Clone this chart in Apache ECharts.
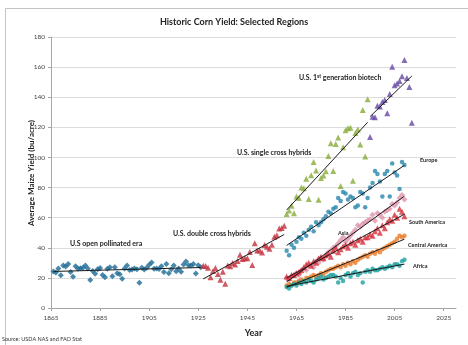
<!DOCTYPE html>
<html>
<head>
<meta charset="utf-8">
<script src="https://cdn.jsdelivr.net/npm/echarts@6/dist/echarts.min.js"></script>
<style>
  html, body { margin: 0; padding: 0; background: #fff; }
  #main { width: 468px; height: 345px; }
</style>
</head>
<body>
<div id="main"></div>
<script>
// US yields (bu/acre), one value per year from the start year
const usOpenStart = 1866;
const usOpen = [24.3, 23.6, 26.2, 21.8, 28.3, 27.6, 29.3, 23.9, 20.8, 27.7,
  26.0, 26.4, 26.7, 28.2, 26.3, 18.6, 24.6, 22.7, 25.8, 26.5,
  22.0, 20.4, 26.1, 27.0, 21.1, 27.0, 23.1, 22.5, 19.4, 26.2,
  28.2, 25.3, 25.6, 26.2, 25.8, 16.7, 26.8, 25.5, 26.8, 28.8,
  30.3, 26.0, 26.2, 25.9, 27.7, 23.9, 29.2, 23.1, 25.8, 28.2,
  24.4, 26.3, 24.0, 28.9, 30.9, 28.4, 28.3, 29.3, 22.9, 28.4, 27.0];
const usDoubleStart = 1927;
const usDouble = [28.1, 27.9, 26.8, 20.5, 24.5, 26.5, 22.6, 18.7, 24.0, 16.1,
  28.2, 27.8, 29.9, 28.9, 31.2, 35.4, 32.6, 33.0, 33.1, 37.2,
  28.6, 43.0, 38.2, 38.2, 36.9, 41.8, 40.7, 39.4, 42.0, 47.4,
  48.3, 52.8, 53.1, 54.7];
const usSingleStart = 1961;
const usSingle = [62.4, 64.7, 67.9, 62.9, 74.1, 73.1, 80.1, 79.5, 85.9, 72.4,
  88.1, 97.0, 91.3, 71.9, 86.4, 88.0, 90.8, 101.0, 109.5, 91.0,
  108.9, 113.2, 81.1, 106.7, 118.0, 119.4, 119.8, 84.6, 116.3, 118.5,
  108.6, 131.5, 100.7, 138.6];
const usBiotechStart = 1995;
const usBiotech = [113.5, 127.1, 126.7, 134.4, 133.8, 136.9, 138.2, 129.3, 142.2, 160.3,
  147.9, 149.1, 150.7, 153.9, 164.7, 152.8, 146.8, 123.1];

// FAO regions, 1961 onwards
const regionStart = 1961;
const europe = [38, 35, 42, 40, 44, 47, 46, 50, 48, 52,
  54, 51, 57, 55, 57, 59, 61, 64, 63, 66,
  67, 73, 71, 77, 76, 72, 74, 73, 67, 68,
  77, 76, 67, 73, 80, 83, 91, 89, 84, 74,
  89, 91, 74, 96, 90, 88, 79, 97, 95];
const asia = [20, 19, 21, 22, 23, 22, 25, 26, 25, 28,
  29, 27, 31, 30, 33, 32, 35, 37, 38, 40,
  41, 43, 45, 47, 44, 46, 48, 50, 52, 55,
  54, 56, 57, 58, 59, 62, 58, 63, 62, 60,
  64, 65, 66, 69, 68, 70, 73, 75, 72];
const southAmerica = [21, 20, 22, 22, 23, 24, 25, 27, 29, 30,
  28, 31, 30, 33, 34, 33, 35, 36, 34, 38,
  40, 37, 39, 41, 42, 40, 43, 44, 42, 45,
  46, 44, 47, 47, 49, 48, 51, 53, 50, 55,
  53, 57, 59, 58, 62, 60, 66, 64, 61];
const centralAmerica = [15, 16, 15, 17, 17, 18, 19, 18, 20, 20,
  21, 22, 21, 22, 23, 22, 24, 25, 26, 26,
  27, 28, 27, 29, 28, 30, 29, 31, 30, 32,
  33, 34, 35, 34, 36, 37, 36, 38, 37, 39,
  40, 41, 42, 43, 44, 46, 48, 47, 48];
const africa = [14, 13, 15, 16, 15, 17, 16, 18, 17, 19,
  18, 17, 19, 20, 21, 19, 20, 21, 22, 22,
  21, 17, 20, 18, 22, 23, 21, 23, 24, 22,
  23, 17, 24, 25, 24, 26, 25, 25, 26, 27,
  26, 27, 28, 27, 29, 29, 28, 31, 32];

const xTicks = [1865, 2030, 20];
const yTicks = [0, 180, 20];

// year/value pairs
const pairs = (start, vals) => vals.map((v, i) => [start + i, v]);

// least squares line over the points, ends at first and last year
const trend = (pts) => {
  const n = pts.length;
  let sx = 0, sy = 0;
  pts.forEach(p => { sx += p[0]; sy += p[1]; });
  const mx = sx / n, my = sy / n;
  let num = 0, den = 0;
  pts.forEach(p => { num += (p[0] - mx) * (p[1] - my); den += (p[0] - mx) * (p[0] - mx); });
  const k = num / den;
  const x0 = pts[0][0], x1 = pts[n - 1][0];
  return [[x0, my + k * (x0 - mx)], [x1, my + k * (x1 - mx)]];
};

const groups = [
  { name: 'US open pollinated', data: pairs(usOpenStart, usOpen), color: '#1d6a95', symbol: 'diamond', size: 6 },
  { name: 'US double cross', data: pairs(usDoubleStart, usDouble), color: '#c3303d', symbol: 'triangle', size: 6 },
  { name: 'US single cross', data: pairs(usSingleStart, usSingle), color: '#88ab3a', symbol: 'triangle', size: 6 },
  { name: 'US biotech', data: pairs(usBiotechStart, usBiotech), color: '#6649a3', symbol: 'triangle', size: 6 },
  { name: 'Europe', data: pairs(regionStart, europe), color: '#2786ad', symbol: 'circle', size: 4.5 },
  { name: 'Asia', data: pairs(regionStart, asia), color: '#df94aa', symbol: 'diamond', size: 6 },
  { name: 'South America', data: pairs(regionStart, southAmerica), color: '#d52f3b', symbol: 'triangle', size: 6 },
  { name: 'Central America', data: pairs(regionStart, centralAmerica), color: '#e97a28', symbol: 'circle', size: 4.5 },
  { name: 'Africa', data: pairs(regionStart, africa), color: '#1d9f9f', symbol: 'circle', size: 4.5 }
];

const series = [];
groups.forEach(g => {
  series.push({
    name: g.name,
    type: 'scatter',
    data: g.data,
    symbol: g.symbol,
    symbolSize: g.size,
    itemStyle: { color: g.color },
    silent: true,
    z: 2
  });
});
groups.forEach(g => {
  series.push({
    name: g.name + ' trend',
    type: 'line',
    data: trend(g.data),
    symbol: 'none',
    lineStyle: { color: '#1a1a1a', width: 1 },
    silent: true,
    z: 3
  });
});

const font = 'Lato, "Open Sans", sans-serif';
const note = (text, x, y, size) => ({
  type: 'text', left: x, top: y - size / 2 - 1, z: 10,
  style: { text: text, font: 'bold ' + size + 'px ' + font, fill: '#222' }
});

const chart = echarts.init(document.getElementById('main'), null, { renderer: 'canvas' });
chart.setOption({
  animation: false,
  backgroundColor: '#fff',
  title: {
    text: 'Historic Corn Yield: Selected Regions',
    left: 'center', top: 13,
    textStyle: { fontFamily: font, fontSize: 9, fontWeight: 'bold', color: '#222' }
  },
  grid: { left: 51, right: 12, top: 37, bottom: 37, containLabel: false },
  xAxis: {
    type: 'value',
    min: xTicks[0], max: xTicks[1], interval: xTicks[2],
    name: 'Year', nameLocation: 'middle', nameGap: 21,
    nameTextStyle: { fontFamily: font, fontSize: 9, fontWeight: 'bold', color: '#222' },
    axisLine: { lineStyle: { color: '#a6a6a6' } },
    axisTick: { show: true, length: 3, lineStyle: { color: '#a6a6a6' } },
    axisLabel: { fontFamily: font, fontSize: 6.5, color: '#444', margin: 6, showMaxLabel: false, formatter: v => String(v) },
    splitLine: { show: false }
  },
  yAxis: {
    type: 'value',
    min: yTicks[0], max: yTicks[1], interval: yTicks[2],
    axisLine: { show: true, lineStyle: { color: '#a6a6a6' } },
    axisTick: { show: true, length: 3, lineStyle: { color: '#a6a6a6' } },
    axisLabel: { fontFamily: font, fontSize: 6.5, color: '#444', margin: 6 },
    splitLine: { show: true, lineStyle: { color: '#dcdcdc', width: 1 } }
  },
  graphic: [
    { type: 'rect', shape: { x: 5.5, y: 8.5, width: 470, height: 345 }, style: { fill: 'none', stroke: '#c4c4c4', lineWidth: 1 }, z: -1, silent: true },
    {
      type: 'text', x: 31, y: 173, rotation: Math.PI / 2, z: 10,
      style: { text: 'Average Maize Yield (bu/acre)', font: 'bold 8px ' + font, fill: '#222', align: 'center', verticalAlign: 'middle' }
    },
    {
      type: 'text', left: 299, top: 74, z: 10,
      style: {
        text: 'U.S. 1{sup|st} generation biotech',
        font: 'bold 7px ' + font, fill: '#222',
        rich: { sup: { fontSize: 5, fontWeight: 'bold', fontFamily: font, verticalAlign: 'top', padding: [0, 0, 3, 0] } }
      }
    },
    note('U.S. single cross hybrids', 237, 154, 7),
    note('U.S. double cross hybrids', 173, 235, 7),
    note('U.S open pollinated era', 70, 245, 7),
    note('Europe', 420, 161, 5.5),
    note('Asia', 338, 234, 5.5),
    note('South America', 409, 223, 5.5),
    note('Central America', 408, 246, 5.5),
    note('Africa', 413, 267, 5.5),
    { type: 'text', left: 2, top: 336, z: 10, style: { text: 'Source: USDA NAS and FAO Stat', font: '5.5px ' + font, fill: '#333' } }
  ],
  series: series
});
</script>
</body>
</html>
